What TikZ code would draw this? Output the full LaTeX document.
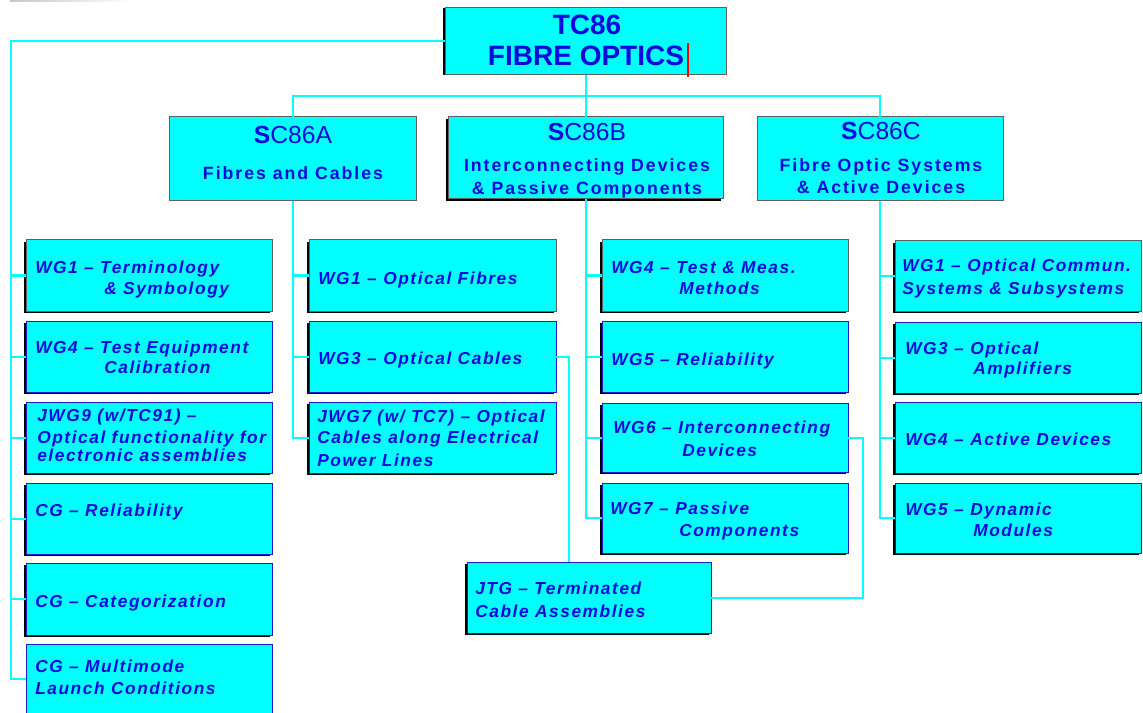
\documentclass[tikz,border=0pt]{standalone}
\usepackage{fontspec}
\setmainfont{Liberation Sans}
\newfontfamily\wgf[LetterSpace=9]{Liberation Sans}
\newfontfamily\subf[LetterSpace=11]{Liberation Sans}
\usetikzlibrary{shadows}
\definecolor{cy}{RGB}{0,255,255}
\definecolor{tx}{RGB}{10,10,220}
\definecolor{bd}{RGB}{30,30,200}
\definecolor{gb}{RGB}{95,95,95}
\tikzset{
  conn/.style={draw=cy, line width=1.5pt},
  boxbase/.style={fill=cy, inner sep=0pt, outer sep=0pt, line width=0.75pt},
  gbox/.style={boxbase, draw=gb},
  bbox/.style={boxbase, draw=bd},
  shad/.style={general shadow={shadow xshift=-1.8pt, shadow yshift=-1.8pt, fill=black}},
  lshad/.style={general shadow={shadow xshift=-1.8pt, shadow yshift=0pt, fill=black}},
  wgtext/.style={anchor=base west, inner sep=0pt, text=tx, font=\wgf\bfseries\itshape\fontsize{13}{15}\selectfont},
  subtext/.style={anchor=base, inner sep=0pt, text=tx, font=\subf\bfseries\fontsize{13.3}{16}\selectfont},
  headtext/.style={anchor=base, inner sep=0pt, text=tx, font=\fontsize{18.5}{22}\selectfont},
  titletext/.style={anchor=base, inner sep=0pt, text=tx, font=\bfseries\fontsize{21}{25}\selectfont},
}
\newcommand\mkbox[6]{\node[#6, minimum width={(#4-#2)*0.75pt}, minimum height={(#5-#3)*0.75pt}] (#1) at ({(#2+#4)/2},{(#3+#5)/2}) {};}
\newcommand\wgl[4]{\node[wgtext] (#1) at (#2,#3) {#4};}
\begin{document}
\begin{tikzpicture}[x=0.75pt,y=-0.75pt]
\useasboundingbox[fill=white] (0,0) rectangle (1143,713);
\shade[left color=gray!45, right color=white] (10,0) rectangle (132,2);

% top level and sub-committees
\mkbox{tc}{445}{8}{726}{75}{gbox,lshad}
\mkbox{sca}{169}{117}{416}{201}{gbox}
\mkbox{scb}{448}{117}{723}{199}{gbox,shad}
\mkbox{scc}{757}{117}{1003}{201}{gbox}

% left column
\mkbox{l1}{26}{240}{272}{311}{gbox,shad}
\mkbox{l2}{26}{321}{272}{392}{bbox,shad}
\mkbox{l3}{26}{402}{272}{473}{bbox,shad}
\mkbox{l4}{26}{483}{272}{554}{bbox,shad}
\mkbox{l5}{26}{563}{272}{635}{bbox,shad}
\mkbox{l6}{26}{644}{272}{714}{bbox}
% column A
\mkbox{a1}{309}{240}{556}{311}{gbox,shad}
\mkbox{a2}{309}{321}{556}{392}{bbox,shad}
\mkbox{a3}{309}{402}{556}{473}{bbox,shad}
% column B
\mkbox{b1}{602}{240}{848}{311}{gbox,shad}
\mkbox{b2}{602}{321}{848}{392}{bbox,shad}
\mkbox{b3}{602}{403}{848}{472}{bbox,shad}
\mkbox{b4}{602}{483}{848}{553}{bbox,shad}
% column C
\mkbox{c1}{895}{241}{1141}{311}{gbox,shad}
\mkbox{c2}{895}{322}{1141}{393}{bbox,shad}
\mkbox{c3}{895}{402}{1141}{473}{bbox,shad}
\mkbox{c4}{895}{483}{1141}{553}{bbox,shad}
% joint task group
\mkbox{jtg}{467}{562}{711}{633}{bbox,shad}

% connectors
\coordinate (bus) at (588,96);
\coordinate (lx) at (11,0);
\coordinate (jx) at (569,0);
\coordinate (kx) at (863,0);
\draw[conn] (tc.south) -- (tc.south |- bus);
\draw[conn] (sca.north) -- (sca.north |- bus) -- (scc.north |- bus) -- (scc.north);
\draw[conn] (scb.north) -- (scb.north |- bus);
\draw[conn] (tc.west) -| (lx |- l6.west) -- (l6.west);
\foreach \n in {l1,l2,l3,l4,l5} \draw[conn] (\n.west) -- (\n.west -| lx);
\draw[conn] (sca.south) |- (a3.west);
\foreach \n in {a1,a2} \draw[conn] (\n.west) -- (\n.west -| sca.south);
\draw[conn] (scb.south) |- (b4.west);
\foreach \n in {b1,b2,b3} \draw[conn] (\n.west) -- (\n.west -| scb.south);
\draw[conn] (scc.south) |- (c4.west);
\foreach \n in {c1,c2,c3} \draw[conn] (\n.west) -- (\n.west -| scc.south);
\draw[conn] (a2.east) -| (jx |- jtg.north);
\draw[conn] (b3.east) -| (kx |- jtg.east) -- (jtg.east);

% header texts
\node[titletext] (tct1) at (587,35) {TC86};
\node[titletext] (tct2) at (586,66) {FIBRE OPTICS};
\draw[red, line width=0.8pt] (688,43) -- (688,77);
\node[headtext] (sat1) at (293,144) {{\bfseries S}C86A};
\node[subtext] (sat2) at (293,180) {Fibres and Cables};
\node[headtext] (sbt1) at (587,141) {{\bfseries S}C86B};
\node[subtext] (sbt2) at (587,172) {Interconnecting Devices};
\node[subtext] (sbt3) at (587,195) {\& Passive Components};
\node[headtext] (sct1) at (881,140) {{\bfseries S}C86C};
\node[subtext] (sct2) at (881,172) {Fibre Optic Systems};
\node[subtext] (sct3) at (881,194) {\& Active Devices};

% working group texts
\wgl{l1t1}{35}{273}{WG1 – Terminology}
\wgl{l1t2}{104}{294}{\& Symbology}
\wgl{l2t1}{35}{353}{WG4 – Test Equipment}
\wgl{l2t2}{104}{373}{Calibration}
\wgl{l3t1}{37}{421}{JWG9 (w/TC91) –}
\wgl{l3t2}{37}{443}{Optical functionality for}
\wgl{l3t3}{37}{461}{electronic assemblies}
\wgl{l4t1}{35}{516}{CG – Reliability}
\wgl{l5t1}{35}{607}{CG – Categorization}
\wgl{l6t1}{35}{672}{CG – Multimode}
\wgl{l6t2}{35}{694}{Launch Conditions}

\wgl{a1t1}{318}{284}{WG1 – Optical Fibres}
\wgl{a2t1}{318}{364}{WG3 – Optical Cables}
\wgl{a3t1}{317}{422}{JWG7 (w/ TC7) – Optical}
\wgl{a3t2}{317}{443}{Cables along Electrical}
\wgl{a3t3}{317}{466}{Power Lines}

\wgl{b1t1}{611}{273}{WG4 – Test \& Meas.}
\wgl{b1t2}{679}{294}{Methods}
\wgl{b2t1}{611}{365}{WG5 – Reliability}
\wgl{b3t1}{613}{433}{WG6 – Interconnecting}
\wgl{b3t2}{682}{456}{Devices}
\wgl{b4t1}{610}{514}{WG7 – Passive}
\wgl{b4t2}{679}{536}{Components}

\wgl{c1t1}{902}{272}{WG1 – Optical Commun.}
\wgl{c1t2}{902}{294}{Systems \& Subsystems}
\wgl{c2t1}{905}{354}{WG3 – Optical}
\wgl{c2t2}{973}{374}{Amplifiers}
\wgl{c3t1}{905}{445}{WG4 – Active Devices}
\wgl{c4t1}{905}{515}{WG5 – Dynamic}
\wgl{c4t2}{973}{536}{Modules}

\wgl{jt1}{475}{594}{JTG – Terminated}
\wgl{jt2}{475}{617}{Cable Assemblies}
\end{tikzpicture}
\end{document}
